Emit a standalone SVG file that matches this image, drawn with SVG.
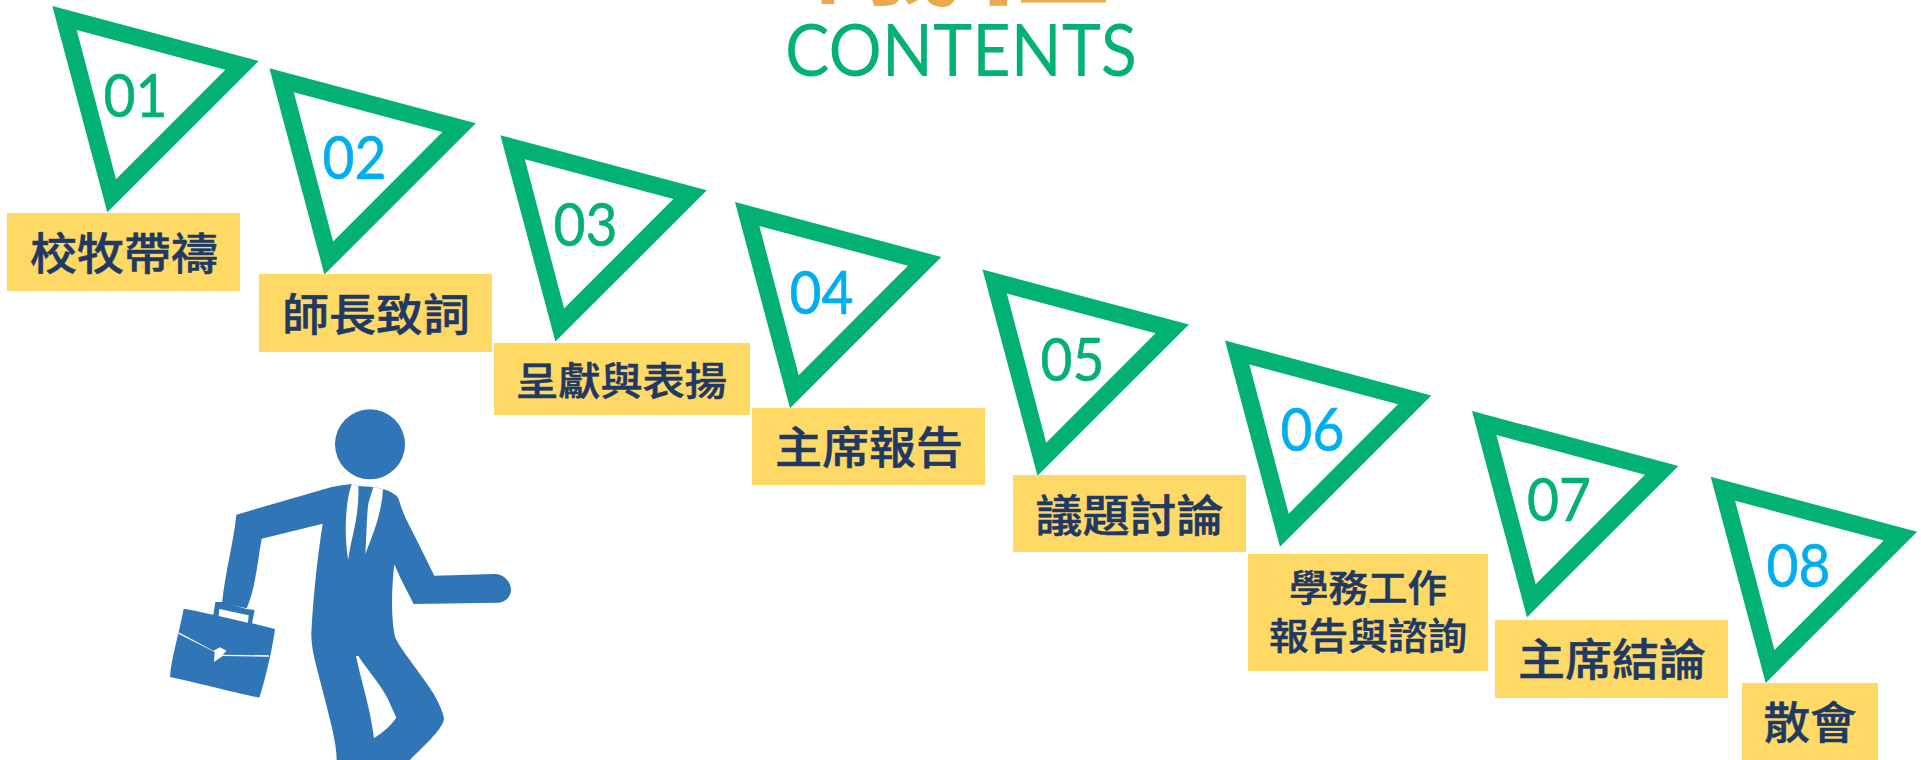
<svg xmlns="http://www.w3.org/2000/svg" width="1921" height="760" viewBox="0 0 1921 760">
<style>
.g{fill:#03B173}.b{fill:#00AEEF}
.num{font-family:Lato,"Open Sans",sans-serif;font-size:60px;text-anchor:middle;stroke-width:.6px}
.num.g{stroke:#03B173}.num.b{stroke:#00AEEF}
.lab{fill:#FFD966}
.t{font-family:"Noto Sans CJK TC",sans-serif;font-weight:500;font-size:44px;fill:#203864;text-anchor:middle;stroke:#203864;stroke-width:.5px}
.s{font-size:37px}
.p{fill:#3076B6}
</style>
<defs><path id="tri" fill-rule="evenodd" d="M0 0L206.400 55L55 206.300ZM24.400 24L63.700 173.300L173 63.700Z"/></defs>
<rect width="1921" height="760" fill="#fff"/>
<g id="title">
<text x="962" y="-8" font-family="'Noto Sans CJK TC',sans-serif" font-weight="700" font-size="150" fill="#EAA84F" text-anchor="middle">議程</text>
<text x="961" y="76" font-family="Lato,sans-serif" font-size="72" fill="#03B173" text-anchor="middle" textLength="352" lengthAdjust="spacingAndGlyphs">CONTENTS</text>
</g>
<g id="node1"><use href="#tri" x="52.300" y="6" class="g"/><text class="num g" x="135.500" y="116.700" textLength="64" lengthAdjust="spacingAndGlyphs">01</text><rect class="lab" x="7" y="213" width="233" height="78"/><text class="t" x="124" y="270" textLength="188" lengthAdjust="spacingAndGlyphs">校牧帶禱</text></g>
<g id="node2"><use href="#tri" x="269.400" y="68.300" class="g"/><text class="num b" x="354.500" y="179" textLength="64" lengthAdjust="spacingAndGlyphs">02</text><rect class="lab" x="259" y="274" width="233" height="78"/><text class="t" x="376" y="331" textLength="188" lengthAdjust="spacingAndGlyphs">師長致詞</text></g>
<g id="node3"><use href="#tri" x="500.400" y="135.300" class="g"/><text class="num g" x="585.500" y="246" textLength="64" lengthAdjust="spacingAndGlyphs">03</text><rect class="lab" x="494" y="343" width="256" height="72"/><text class="t" style="font-size:39px" x="621.500" y="395" textLength="211" lengthAdjust="spacingAndGlyphs">呈獻與表揚</text></g>
<g id="node4"><use href="#tri" x="735" y="202" class="g"/><text class="num b" x="821.500" y="314" textLength="64" lengthAdjust="spacingAndGlyphs">04</text><rect class="lab" x="752" y="408" width="233" height="77"/><text class="t" x="869" y="464" textLength="188" lengthAdjust="spacingAndGlyphs">主席報告</text></g>
<g id="node5"><use href="#tri" x="982.500" y="269.500" class="g"/><text class="num g" x="1072.500" y="380.500" textLength="64" lengthAdjust="spacingAndGlyphs">05</text><rect class="lab" x="1013" y="475" width="233" height="77"/><text class="t" x="1129.500" y="532" textLength="188" lengthAdjust="spacingAndGlyphs">議題討論</text></g>
<g id="node6"><use href="#tri" x="1225" y="340.500" class="g"/><text class="num b" x="1312.500" y="451" textLength="64" lengthAdjust="spacingAndGlyphs">06</text><rect class="lab" x="1248" y="554" width="240" height="117"/><text class="t s" x="1368" y="602" textLength="158" lengthAdjust="spacingAndGlyphs">學務工作</text><text class="t s" x="1368" y="650" textLength="198" lengthAdjust="spacingAndGlyphs">報告與諮詢</text></g>
<g id="node7"><use href="#tri" x="1472" y="411" class="g"/><text class="num g" x="1559" y="521" textLength="64" lengthAdjust="spacingAndGlyphs">07</text><rect class="lab" x="1495" y="620" width="233" height="78"/><text class="t" x="1612" y="676" textLength="188" lengthAdjust="spacingAndGlyphs">主席結論</text></g>
<g id="node8"><use href="#tri" x="1710.700" y="476.700" class="g"/><text class="num b" x="1798.500" y="587" textLength="64" lengthAdjust="spacingAndGlyphs">08</text><rect class="lab" x="1742" y="683" width="136" height="77"/><text class="t" x="1810" y="739" textLength="93" lengthAdjust="spacingAndGlyphs">散會</text></g>
<g id="person" transform="translate(140 390) scale(.33333)">
<circle class="p" cx="690" cy="163" r="105"/>
<path class="p" d="M289 374L575 291Q605 285 635 282L655 288L700 291L729 297C760 308 775 315 780 340C790 375 810 410 830 450L883 557L1065 552C1090 552 1113 575 1113 600C1113 620 1095 637 1075 638L821 642L783 568L763 523C755 590 752 680 765 740C775 770 850 860 880 910C900 945 912 975 912 988C905 1020 860 1060 810 1110L590 1110C590 1060 570 990 550 910C530 830 513 780 514 730C520 620 530 520 548 401L365 446C352 520 345 600 320 655L246 640C255 550 282 450 289 374Z"/>
<path fill="#fff" d="M635 282L655 288C657 340 650 385 640 430C632 465 628 485 625 510C612 440 615 340 635 282ZM700 291L729 297C725 370 700 430 676 492C680 430 680 380 685 340ZM648 798L655 798C690 850 730 895 745 930L769 983C750 1010 725 1030 702 1044C690 950 665 880 648 798Z"/>
<path class="p" fill-rule="evenodd" d="M131 656C160 660 190 668 220 674L226 636L246 636L320 657L344 660L336 700L405 717C395 790 375 870 358 923C300 912 200 885 90 861C92 810 115 740 131 656ZM238 657L326 676L324 698L236 678Z"/>
<path fill="#fff" d="M116 727L220 782L240 772L260 782L248 794L387 796L387 800L248 798L222 816L224 786L115 731Z"/>
</g>
</svg>
